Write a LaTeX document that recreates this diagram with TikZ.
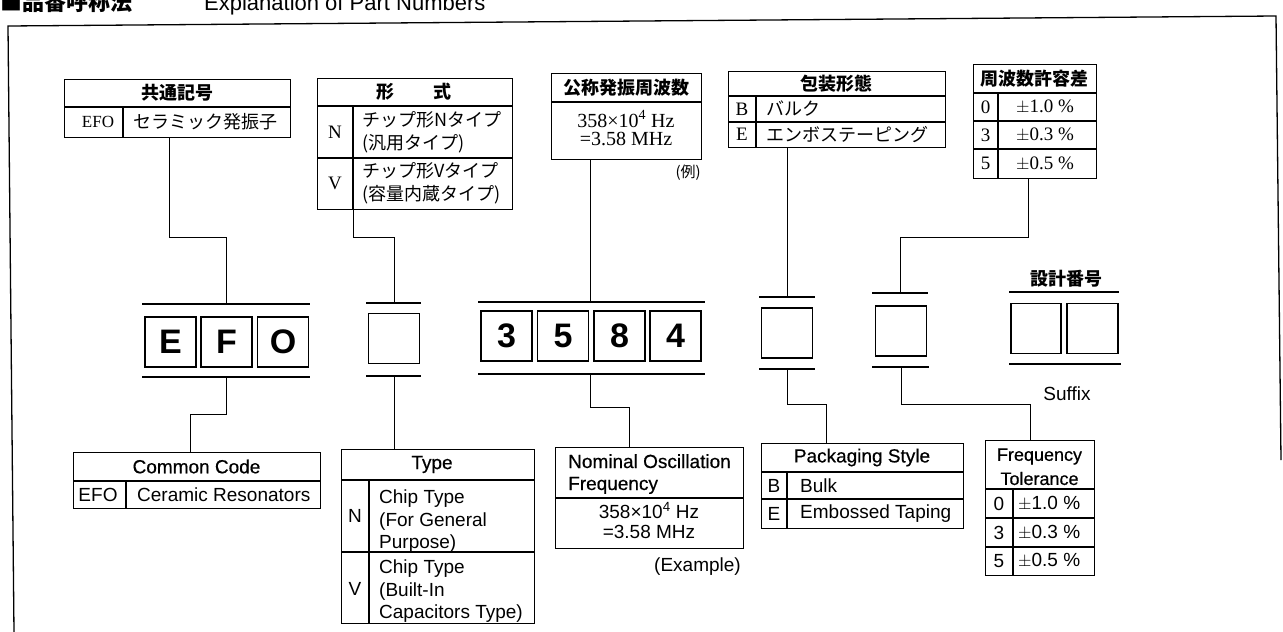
\documentclass[tikz,border=0pt]{standalone}
\usepackage{fontspec}
\setmainfont{Liberation Serif}
\setsansfont{Liberation Sans}
\newfontfamily\jp{Noto Sans CJK JP}
\newfontfamily\hsans{Liberation Sans}[FakeBold=0.5]
\begin{document}
\begin{tikzpicture}[x=1pt,y=-1pt,
  tbl/.style={draw, line width=1.3pt, inner sep=0pt, anchor=north west},
  ln/.style={line width=1.1pt},
  con/.style={line width=1pt},
  brk/.style={line width=1.1pt},
  cbox/.style={draw, line width=1.4pt, inner sep=0pt, minimum width=51pt, minimum height=50pt, font=\sffamily\bfseries\fontsize{34}{34}\selectfont},
  jph/.style={font=\jp\bfseries\fontsize{18}{18}\selectfont, inner sep=0pt},
  jpt/.style={font=\jp\fontsize{18}{18}\selectfont, inner sep=0pt},
  ser/.style={font=\rmfamily\fontsize{19}{19}\selectfont, inner sep=0pt},
  en/.style={font=\sffamily\fontsize{19}{19}\selectfont, inner sep=0pt},
  enh/.style={font=\hsans\fontsize{19}{19}\selectfont, inner sep=0pt}]
\useasboundingbox (0,0) rectangle (1283,632);
\fill[white] (0,0) rectangle (1283,632);

% title
\node[anchor=base west, inner sep=0pt, font=\jp\bfseries\fontsize{22}{22}\selectfont] (tj) at (0,10) {■品番呼称法};
\node[anchor=base west, inner sep=0pt, font=\sffamily\fontsize{22}{22}\selectfont] (te) at (204,10) {Explanation of Part Numbers};

% frame
\draw[line width=1.3pt] (14,632) -- (8,26) -- (1276,16) -- (1281,460);

% ---------- top tables ----------
\node[tbl, minimum width=226pt, minimum height=58pt] (jc) at (64,79) {};
\draw[ln] (64,107) -- (290,107);
\draw[ln] (123,107) -- (123,137);
\node[jph] (jch) at (177,93) {共通記号};
\node[ser, font=\rmfamily\fontsize{17}{17}\selectfont] (jc1) at (98,122) {EFO};
\node[jpt] (jc2) at (205,122) {セラミック発振子};

\node[tbl, minimum width=195pt, minimum height=131pt] (jt) at (317,78) {};
\draw[ln] (317,106) -- (512,106);
\draw[ln] (317,158) -- (512,158);
\draw[ln] (353,106) -- (353,209);
\node[jph] (jth) at (414,92) {形\hspace{2.2em}式};
\node[ser] (jtn) at (335,132) {N};
\node[jpt, anchor=west] (jtn1) at (362,120) {チップ形Nタイプ};
\node[jpt, anchor=west] (jtn2) at (362,144) {(汎用タイプ)};
\node[ser] (jtv) at (335,183.5) {V};
\node[jpt, anchor=west] (jtv1) at (362,171) {チップ形Vタイプ};
\node[jpt, anchor=west] (jtv2) at (362,195) {(容量内蔵タイプ)};

\node[tbl, minimum width=150pt, minimum height=86pt] (jn) at (551,73) {};
\draw[ln] (551,102) -- (701,102);
\node[jph] (jnh) at (626,87.5) {公称発振周波数};
\node[ser, font=\rmfamily\fontsize{20}{20}\selectfont] (jn1) at (626,119) {358\texttimes 10\textsuperscript{4} Hz};
\node[ser, font=\rmfamily\fontsize{20}{20}\selectfont] (jn2) at (626,139) {=3.58 MHz};
\node[jpt, font=\jp\fontsize{15}{15}\selectfont, anchor=east] (jnx) at (701,173) {(例)};

\node[tbl, minimum width=217pt, minimum height=76pt] (jp) at (728,71) {};
\draw[ln] (728,96) -- (945,96);
\draw[ln] (728,122) -- (945,122);
\draw[ln] (756,96) -- (756,147);
\node[jph] (jph1) at (836.5,83.5) {包装形態};
\node[ser] (jpb) at (742,109) {B};
\node[jpt, anchor=west] (jpb1) at (766,109) {バルク};
\node[ser] (jpe) at (742,134.5) {E};
\node[jpt, anchor=west] (jpe1) at (766,134.5) {エンボステーピング};

\node[tbl, minimum width=123pt, minimum height=114pt] (jf) at (973,64) {};
\draw[ln] (973,93) -- (1096,93);
\draw[ln] (973,121) -- (1096,121);
\draw[ln] (973,149) -- (1096,149);
\draw[ln] (998,93) -- (998,178);
\node[jph] (jfh) at (1034.5,78.5) {周波数許容差};
\node[ser] (jf0) at (985.5,107) {0};
\node[ser] (jf0v) at (1045,107) {$\pm$1.0 \%};
\node[ser] (jf3) at (985.5,135) {3};
\node[ser] (jf3v) at (1045,135) {$\pm$0.3 \%};
\node[ser] (jf5) at (985.5,163.5) {5};
\node[ser] (jf5v) at (1045,163.5) {$\pm$0.5 \%};

% ---------- code boxes ----------
\node[cbox] (bE) at (170.5,342) {E};
\node[cbox] (bF) at (226.5,342) {F};
\node[cbox] (bO) at (283,342) {O};
\node[cbox] (bT) at (394,338.5) {};
\node[cbox] (b3) at (506.5,336) {3};
\node[cbox] (b5) at (563,336) {5};
\node[cbox] (b8) at (619.5,336) {8};
\node[cbox] (b4) at (675.5,336) {4};
\node[cbox] (bP) at (787,333) {};
\node[cbox] (bL) at (901,331) {};
\node[cbox, minimum width=50pt] (bS1) at (1036,328.5) {};
\node[cbox, minimum width=51pt] (bS2) at (1092.5,328.5) {};

% brackets
\draw[brk] (142,304) -- (310,304);  \draw[brk] (142,377) -- (310,377);
\draw[brk] (366,303) -- (421,303);  \draw[brk] (366,376) -- (421,376);
\draw[brk] (478,302) -- (705,302);  \draw[brk] (478,374) -- (705,374);
\draw[brk] (759,297) -- (815,297);  \draw[brk] (759,369) -- (815,369);
\draw[brk] (872,293) -- (928,293);  \draw[brk] (872,367) -- (929,367);
\draw[brk] (1009,292) -- (1119,292); \draw[brk] (1009,364) -- (1121,364);
\coordinate (efoT) at (226,304); \coordinate (efoB) at (226,377);
\coordinate (tT) at (394,303);   \coordinate (tB) at (394,376);
\coordinate (nT) at (590,302);   \coordinate (nB) at (590,374);
\coordinate (pT) at (787,297);   \coordinate (pB) at (787,369);
\coordinate (lT) at (900,293);   \coordinate (lB) at (901,367);

\node[jph] (js) at (1066,279) {設計番号};
\node[en] (jsx) at (1067,394) {Suffix};

% ---------- bottom tables ----------
\node[tbl, minimum width=247pt, minimum height=56pt] (ec) at (73,452) {};
\draw[ln] (73,481) -- (320,481);
\draw[ln] (126,481) -- (126,508);
\node[enh] (ech) at (196.5,466.5) {Common Code};
\node[en] (ec1) at (98,494.5) {EFO};
\node[en, anchor=west] (ec2) at (137,494.5) {Ceramic Resonators};

\node[tbl, minimum width=193pt, minimum height=174pt] (et) at (341,449) {};
\draw[ln] (341,480) -- (534,480);
\draw[ln] (341,552) -- (534,552);
\draw[ln] (369,480) -- (369,623);
\node[enh] (eth) at (432,464.5) {Type};
\node[en] (etn) at (355,516) {N};
\node[en, anchor=base west] (etn1) at (379,503) {Chip Type};
\node[en, anchor=base west] (etn2) at (379,526) {(For General};
\node[en, anchor=base west] (etn3) at (379,548) {Purpose)};
\node[en] (etv) at (355,589) {V};
\node[en, anchor=base west] (etv1) at (379,573) {Chip Type};
\node[en, anchor=base west] (etv2) at (379,596) {(Built-In};
\node[en, anchor=base west] (etv3) at (379,618) {Capacitors Type)};

\node[tbl, minimum width=188pt, minimum height=101pt] (en) at (555,447) {};
\draw[ln] (555,498) -- (743,498);
\node[enh, anchor=base west] (enh1) at (568,468) {Nominal Oscillation};
\node[enh, anchor=base west] (enh2) at (568,490) {Frequency};
\node[en, anchor=base] (en1) at (649,518) {358\texttimes 10\textsuperscript{4} Hz};
\node[en, anchor=base] (en2) at (649,538) {=3.58 MHz};
\node[en, anchor=base east] (enx) at (741,571) {(Example)};

\node[tbl, minimum width=202pt, minimum height=85pt] (ep) at (761,443) {};
\draw[ln] (761,472) -- (963,472);
\draw[ln] (761,499) -- (963,499);
\draw[ln] (787,472) -- (787,528);
\node[enh] (eph) at (862,457.5) {Packaging Style};
\node[en] (epb) at (774,485.5) {B};
\node[en, anchor=west] (epb1) at (800,485.5) {Bulk};
\node[en] (epe) at (774,513.5) {E};
\node[en, anchor=west] (epe1) at (800,513.5) {Embossed Taping};

\node[tbl, minimum width=109pt, minimum height=135pt] (ef) at (985,440) {};
\draw[ln] (985,489) -- (1094,489);
\draw[ln] (985,518) -- (1094,518);
\draw[ln] (985,547) -- (1094,547);
\draw[ln] (1013,489) -- (1013,575);
\node[enh, font=\hsans\fontsize{18}{18}\selectfont] (efh1) at (1039.5,456.5) {Frequency};
\node[enh, font=\hsans\fontsize{18}{18}\selectfont] (efh2) at (1039.5,478.5) {Tolerance};
\node[en] (ef0) at (999,503.5) {0};
\node[en, anchor=west] (ef0v) at (1018,503.5) {$\pm$1.0 \%};
\node[en] (ef3) at (999,532.5) {3};
\node[en, anchor=west] (ef3v) at (1018,532.5) {$\pm$0.3 \%};
\node[en] (ef5) at (999,561) {5};
\node[en, anchor=west] (ef5v) at (1018,561) {$\pm$0.5 \%};

% ---------- connectors ----------
\draw[con] ([xshift=105pt]jc.south west) -- ++(0,99) -| (efoT);
\draw[con] ([xshift=36pt]jt.south west) -- ++(0,27) -| (tT);
\draw[con] (nT |- jn.south) -- (nT);
\draw[con] (pT |- jp.south) -- (pT);
\draw[con] ([xshift=55pt]jf.south west) -- ++(0,58) -| (lT);

\draw[con] (efoB) -- ++(0,37) -| ([xshift=117pt]ec.north west);
\draw[con] (tB) -- (tB |- et.north);
\draw[con] (nB) -- ++(0,33) -| ([xshift=74pt]en.north west);
\draw[con] (pB) -- ++(0,35) -| ([xshift=65pt]ep.north west);
\draw[con] (lB) -- ++(0,37) -| ([xshift=45pt]ef.north west);
\end{tikzpicture}
\end{document}
